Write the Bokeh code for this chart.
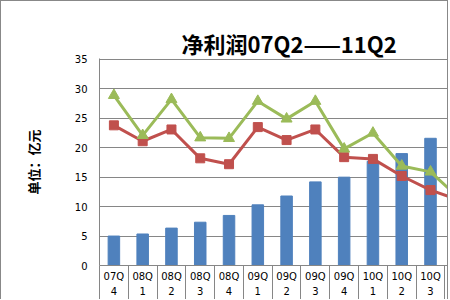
from bokeh.plotting import figure
from bokeh.models import Range1d, FixedTicker, ColumnDataSource, LinearAxis
from bokeh.embed import file_html
from bokeh.resources import INLINE

# ---- data ----
period_year = ["07Q", "08Q", "08Q", "08Q", "08Q", "09Q", "09Q", "09Q", "09Q", "10Q", "10Q", "10Q", "11Q"]
period_q = ["4", "1", "2", "3", "4", "1", "2", "3", "4", "1", "2", "3", "1"]
bar_values = [5.0, 5.35, 6.35, 7.35, 8.5, 10.3, 11.8, 14.2, 15.0, 17.7, 19.0, 21.6, 23.0]
red_values = [23.8, 21.1, 23.1, 18.2, 17.2, 23.5, 21.3, 23.1, 18.4, 18.1, 15.2, 12.8, 11.1]
green_values = [28.9, 22.1, 28.2, 21.7, 21.6, 27.9, 24.9, 27.9, 19.8, 22.5, 16.9, 15.9, 11.4]
y_ticks = [0, 5, 10, 15, 20, 25, 30, 35]
title_text = "净利润07Q2——11Q2"
y_label = "单位：亿元"

xs = list(range(len(period_q)))
src = ColumnDataSource(dict(x=xs, bar=bar_values, red=red_values, green=green_values))

GRID = "#868686"

p = figure(width=448, height=299,
           x_range=Range1d(-0.5, 11.66), y_range=Range1d(0, 35.15),
           output_backend="svg", toolbar_location=None,
           min_border_left=98, min_border_right=0, min_border_top=57, min_border_bottom=33,
           styles={"border-left": "1px solid #888888", "border-top": "1px solid #888888",
                   "border-right": "1px solid #888888"})

p.outline_line_color = None
p.background_fill_color = "white"
p.border_fill_color = "white"

# title
p.title.text = title_text
p.title.text_font = "Noto Sans CJK SC"
p.title.text_font_style = "bold"
p.title.text_font_size = "22px"
p.title.text_color = "black"
p.title.align = "left"
p.title.offset = 82
p.title.standoff = 0

# y axis
p.yaxis.ticker = FixedTicker(ticks=y_ticks)
p.yaxis.major_tick_out = 0
p.yaxis.major_tick_in = 0
p.yaxis.minor_tick_out = 0
p.yaxis.minor_tick_in = 0
p.yaxis.axis_line_color = GRID
p.yaxis.major_label_standoff = 12
p.yaxis.major_label_text_font = "DejaVu Sans"
p.yaxis.major_label_text_font_size = "10px"
p.yaxis.major_label_text_color = "black"
p.yaxis.axis_label = y_label
p.yaxis.axis_label_text_font = "Noto Sans CJK SC"
p.yaxis.axis_label_text_font_style = "bold"
p.yaxis.axis_label_text_font_size = "13px"
p.yaxis.axis_label_text_color = "black"
p.yaxis.axis_label_standoff = 29

p.ygrid.ticker = FixedTicker(ticks=y_ticks)
p.ygrid.grid_line_color = GRID
p.xgrid.visible = False

# x axis: labels at centers, separators as minor ticks
xa = p.xaxis[0]
xa.ticker = FixedTicker(ticks=xs, minor_ticks=[i - 0.5 for i in range(len(xs) + 1)])
xa.major_label_overrides = {i: f"{period_year[i]}\n{period_q[i]}" for i in xs}
xa.major_tick_out = 0
xa.major_tick_in = 0
xa.minor_tick_in = 0
xa.minor_tick_out = 34
xa.minor_tick_line_color = GRID
xa.axis_line_color = GRID
xa.major_label_standoff = -29
xa.major_label_text_font = "DejaVu Sans"
xa.major_label_text_font_size = "10px"
xa.major_label_text_color = "black"
xa.major_label_text_line_height = 1.45

# invisible spacer between title and plot area (added after x-axis styling)
spacer = LinearAxis(ticker=FixedTicker(ticks=[]), major_tick_out=11, major_tick_in=0,
                    minor_tick_out=0, minor_tick_in=0,
                    axis_line_color=None, major_tick_line_color=None,
                    minor_tick_line_color=None, major_label_text_font_size="0px")
p.add_layout(spacer, "above")

# glyphs
p.vbar(x="x", top="bar", width=0.4, source=src, color="#4F81BD")
p.line(x="x", y="red", source=src, color="#C0504D", line_width=3)
p.scatter(x="x", y="red", source=src, marker="square", size=9, color="#C0504D")
p.line(x="x", y="green", source=src, color="#9BBB59", line_width=3)
p.scatter(x="x", y="green", source=src, marker="triangle", size=11, color="#9BBB59")

open("out.html", "w").write(file_html(p, INLINE))
